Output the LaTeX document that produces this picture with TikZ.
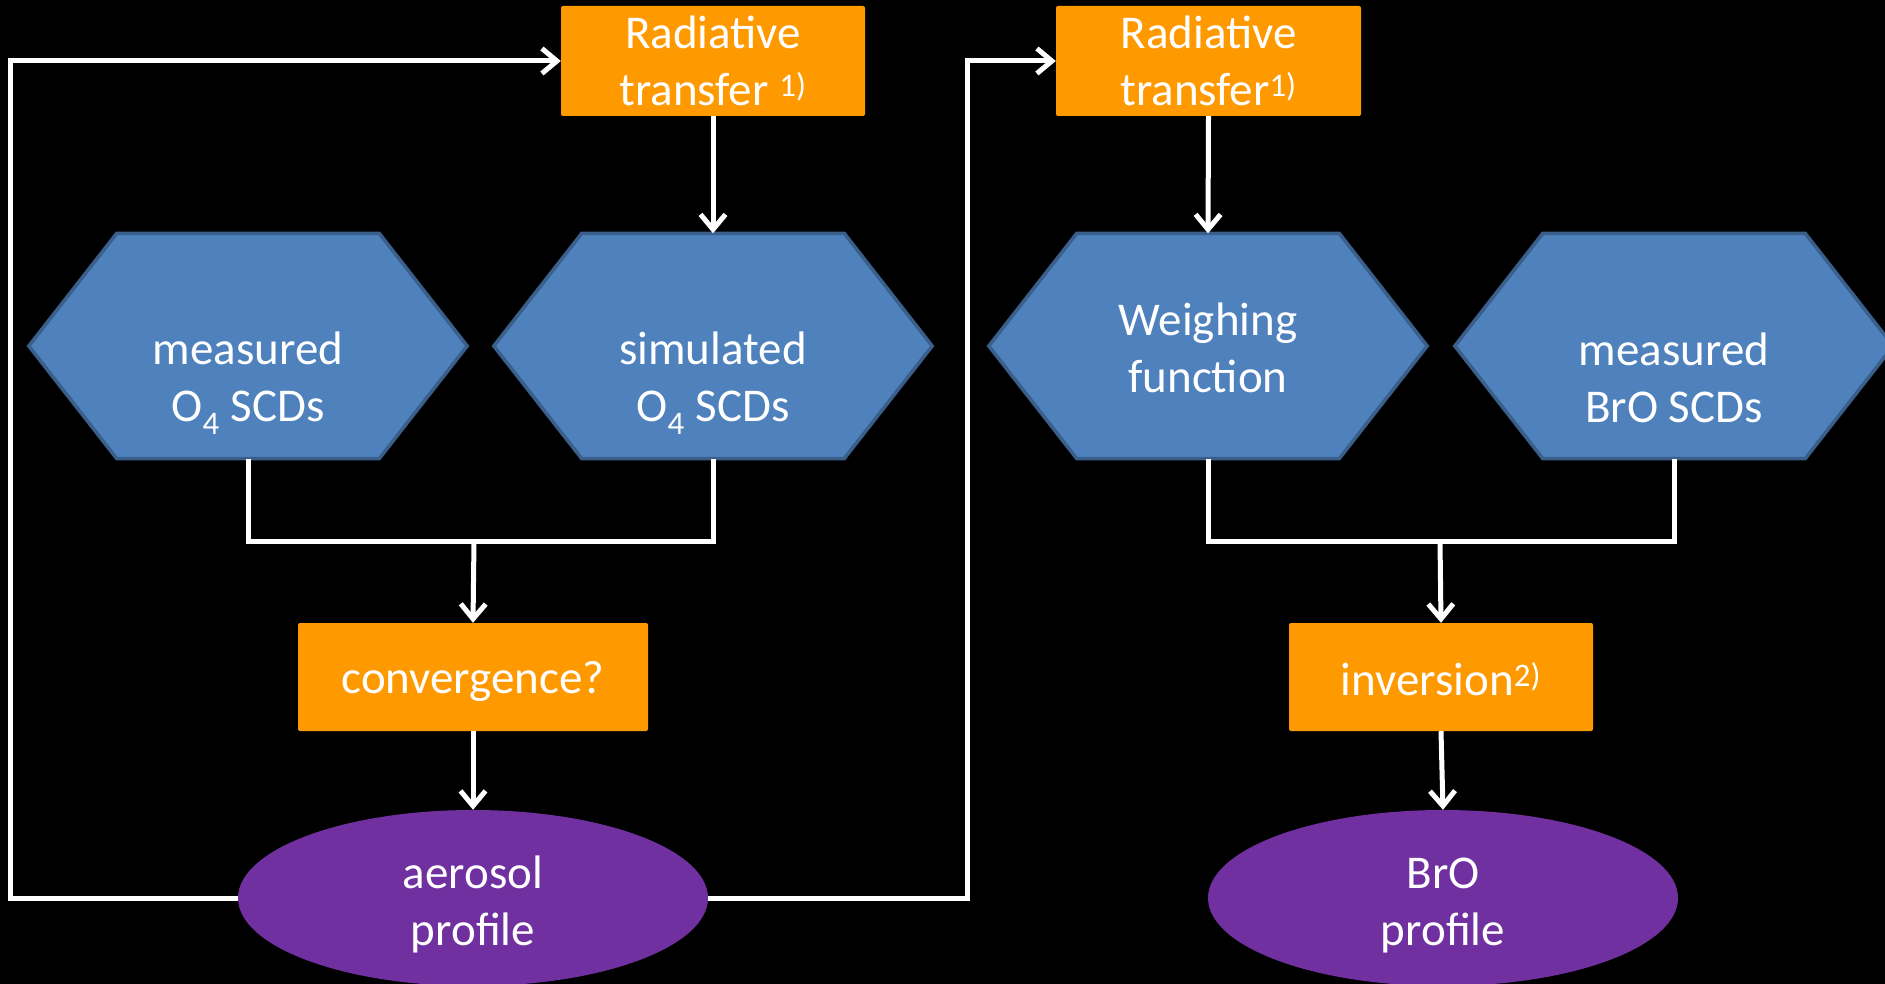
\documentclass[tikz,border=0pt]{standalone}
\usepackage{fontspec}
\setmainfont{Carlito}
\usetikzlibrary{arrows.meta,shapes.geometric}
\definecolor{orng}{HTML}{FF9900}
\definecolor{hexblue}{HTML}{4F81BD}
\definecolor{hexedge}{HTML}{3A5F8B}
\definecolor{purp}{HTML}{7030A0}
\newcommand\hexnode[5]{%
  \node[hexbox] (#1) at (#2,#3) {};
  \path[hexshape] (#1.west) -- ([xshift=88pt]#1.north west) -- ([xshift=-88pt]#1.north east)
     -- (#1.east) -- ([xshift=-88pt]#1.south east) -- ([xshift=88pt]#1.south west) -- cycle;
  \node (#1-text) at (#2,#4) {#5};
}
\begin{document}
\begin{tikzpicture}[x=1pt,y=-1pt,
  every node/.style={font=\fontsize{47}{57}\selectfont, text=white, align=center},
  procbox/.style={fill=orng, rounded corners=2pt, inner sep=0pt, minimum height=110pt},
  hexbox/.style={inner sep=0pt, minimum width=438pt, minimum height=225pt},
  hexshape/.style={fill=hexblue, draw=hexedge, line width=3.5pt, line join=miter},
  result/.style={ellipse, fill=purp, inner sep=0pt, minimum width=470pt, minimum height=176pt},
  link/.style={draw=white, line width=5pt},
  flow/.style={link, -{Straight Barb[length=15pt,width=25pt]}}
]
\fill[black] (0,0) rectangle (1885,984);
\clip (0,0) rectangle (1885,984);
\useasboundingbox (0,0) rectangle (1885,984);

% process boxes
\node[procbox, minimum width=304pt] (rt1) at (713,61) {Radiative\\transfer \textsuperscript{1)}};
\node[procbox, minimum width=305pt] (rt2) at (1208.5,61) {Radiative\\transfer\textsuperscript{1)}};
\node[procbox, minimum width=350pt, minimum height=108pt] (conv) at (473,677) {};
\node (conv-text) at (473,681) {convergence?};
\node[procbox, minimum width=304pt, minimum height=108pt] (inv) at (1441,677) {};
\node (inv-text) at (1441,679) {inversion\textsuperscript{2)}};

% hexagons
\hexnode{h1}{248}{346}{383}{measured\\O\textsubscript{4} SCDs}
\hexnode{h2}{713}{346}{383}{simulated\\O\textsubscript{4} SCDs}
\hexnode{h3}{1208}{346}{348}{Weighing\\function}
\hexnode{h4}{1674}{346}{378}{measured\\BrO SCDs}

% results
\node[result] (aer) at (473,898) {};
\node (aer-text) at (473,904) {aerosol\\profile};
\node[result] (bro) at (1443,898) {};
\node (bro-text) at (1443,906) {BrO\\profile};

% junctions and corners
\coordinate (jL) at (474,541);
\coordinate (jR) at (1440,541);
\coordinate (cL) at (10,898);
\coordinate (cR) at (967,898);

% connectors
\draw[flow] (rt1.south) -- (h2.north);
\draw[link] (h1.south) -- (h1.south |- jL) -- (h2.south |- jL) -- (h2.south);
\draw[flow] (jL) -- (conv.north);
\draw[flow] (conv.south) -- (aer.north);
\draw[flow] (aer.west) -- (cL) |- (rt1.west);
\draw[flow] (aer.east) -- (cR) |- (rt2.west);

\draw[flow] (rt2.south) -- (h3.north);
\draw[link] (h3.south) -- (h3.south |- jR) -- (h4.south |- jR) -- (h4.south);
\draw[flow] (jR) -- (inv.north);
\draw[flow] (inv.south) -- (bro.north);
\end{tikzpicture}
\end{document}
